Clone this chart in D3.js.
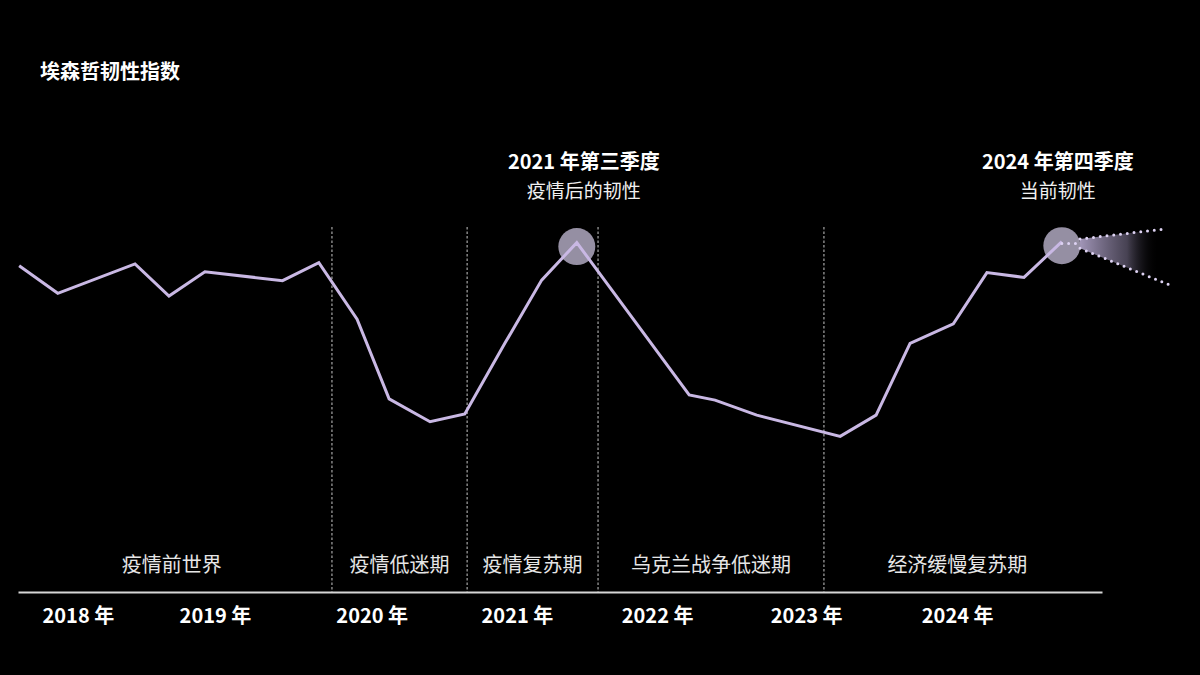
<!DOCTYPE html>
<html>
<head>
<meta charset="utf-8">
<script src="https://cdn.jsdelivr.net/npm/d3@7"></script>
<style>
  html, body { margin: 0; padding: 0; background: #000; }
  svg { display: block; }
  text { font-family: "Noto Sans CJK SC", "Noto Sans", sans-serif; }
</style>
</head>
<body>
<div id="chart"></div>
<script>
// quarter position (0 = 2018 Q1) and index value
const quarterPos = [0, 1, 3, 3.88, 4.81, 6.82, 7.76, 8.75, 9.58, 10.64, 11.54, 12.58,
  13.53, 14.44, 17.35, 18.02, 19.10, 21.26, 22.19, 23.07, 24.19, 25.06, 26.02, 27];
const resilience = [78.1, 68.9, 78.7, 68.0, 76.1, 73.1, 79.1, 60.3, 33.7, 26.1, 28.7, 52.3,
  73.3, 85.8, 35.0, 33.3, 28.3, 21.2, 28.3, 52.2, 58.7, 75.8, 74.2, 86.1];

const yearLabels = ['2018 年', '2019 年', '2020 年', '2021 年', '2022 年', '2023 年', '2024 年'];
const yearTickPos = [1.52, 5.07, 9.13, 12.89, 16.52, 20.38, 24.29];

const phaseNames = ['疫情前世界', '疫情低迷期', '疫情复苏期', '乌克兰战争低迷期', '经济缓慢复苏期'];
const phaseBounds = [-0.2, 8.10, 11.60, 14.99, 20.84, 27.75];

// highlighted points (indexes into the series) and their labels
const highlightIdx = [13, 23];
const highlightTitle = ['2021 年第三季度', '2024 年第四季度'];
const highlightSub = ['疫情后的韧性', '当前韧性'];

// outlook cone after the last point
const coneUpperQ = [27.47, 29.63], coneUpperV = [87.0, 90.3];
const coneLowerQ = [27.47, 29.90], coneLowerV = [83.9, 71.1];
const coneMidQ = [27.0, 27.47], coneMidV = [85.5, 85.5];

const width = 1200, height = 675;
const baseY = 592;

const svg = d3.select('#chart').append('svg')
  .attr('width', width)
  .attr('height', height)
  .attr('viewBox', `0 0 ${width} ${height}`);

svg.append('rect').attr('width', width).attr('height', height).attr('fill', '#000');

const x = d3.scaleLinear().domain([-0.03, 28.04]).range([18, 1102]);
const y = d3.scaleLinear().domain([0, 100]).range([500, 200]);

// title
svg.append('text')
  .attr('x', 40).attr('y', 79)
  .attr('fill', '#fff')
  .attr('font-size', 20)
  .attr('font-weight', 700)
  .text('埃森哲韧性指数');

// phase separators
svg.append('g').selectAll('line')
  .data(phaseBounds.slice(1, -1))
  .join('line')
  .attr('x1', d => x(d)).attr('x2', d => x(d))
  .attr('y1', 227).attr('y2', baseY)
  .attr('stroke', '#c8c8c8')
  .attr('stroke-width', 1)
  .attr('stroke-dasharray', '2.5 2');

// phase labels
svg.append('g').selectAll('text')
  .data(phaseNames)
  .join('text')
  .attr('x', (d, i) => x((phaseBounds[i] + phaseBounds[i + 1]) / 2))
  .attr('y', 572)
  .attr('text-anchor', 'middle')
  .attr('fill', '#e6e6e6')
  .attr('font-size', 20)
  .text(d => d);

// year axis
const axis = svg.append('g')
  .attr('transform', `translate(0,${baseY})`)
  .call(d3.axisBottom(x)
    .tickValues(yearTickPos)
    .tickSize(0)
    .tickPadding(17)
    .tickFormat((d, i) => yearLabels[i]));
axis.select('.domain').attr('stroke', '#d6d6d6').attr('stroke-width', 2);
axis.selectAll('text')
  .attr('fill', '#fff')
  .attr('font-size', 20)
  .attr('font-weight', 700)
  .attr('font-family', '"Noto Sans CJK SC", "Noto Sans", sans-serif');

// outlook cone
const defs = svg.append('defs');
const grad = defs.append('linearGradient')
  .attr('id', 'coneFade')
  .attr('gradientUnits', 'userSpaceOnUse')
  .attr('x1', x(coneUpperQ[0])).attr('x2', x(29.5))
  .attr('y1', 0).attr('y2', 0);
grad.append('stop').attr('offset', '0%').attr('stop-color', '#b3a6cc').attr('stop-opacity', 0.9);
grad.append('stop').attr('offset', '60%').attr('stop-color', '#6e6680').attr('stop-opacity', 0.65);
grad.append('stop').attr('offset', '100%').attr('stop-color', '#000').attr('stop-opacity', 0);

const conePts = [
  [coneUpperQ[0], coneUpperV[0]], [coneUpperQ[1], coneUpperV[1]],
  [coneLowerQ[1], coneLowerV[1]], [coneLowerQ[0], coneLowerV[0]]
];
svg.append('path')
  .attr('d', d3.line().x(d => x(d[0])).y(d => y(d[1]))(conePts) + 'Z')
  .attr('fill', 'url(#coneFade)');

// highlight circles
svg.append('g').selectAll('circle')
  .data(highlightIdx)
  .join('circle')
  .attr('cx', d => x(quarterPos[d]))
  .attr('cy', d => y(resilience[d]) + 4)
  .attr('r', 18.5)
  .attr('fill', '#958fa3');

// main line
const line = d3.line().x(d => x(d[0])).y(d => y(d[1]));
svg.append('path')
  .attr('d', line(d3.zip(quarterPos, resilience)))
  .attr('fill', 'none')
  .attr('stroke', '#c9b8e4')
  .attr('stroke-width', 3)
  .attr('stroke-linejoin', 'miter');

// dotted cone edges
[[coneUpperQ, coneUpperV], [coneLowerQ, coneLowerV], [coneMidQ, coneMidV]].forEach(([q, v]) => {
  svg.append('path')
    .attr('d', line(d3.zip(q, v)))
    .attr('fill', 'none')
    .attr('stroke', '#ddd2f2')
    .attr('stroke-width', 3)
    .attr('stroke-linecap', 'round')
    .attr('stroke-dasharray', '0 6.8');
});

// annotations above the highlighted points
const ann = svg.append('g').selectAll('g')
  .data(highlightIdx)
  .join('g')
  .attr('transform', (d, i) => `translate(${x(quarterPos[d]) + (i === 0 ? 7 : -4)},0)`);
ann.append('text')
  .attr('y', 169)
  .attr('text-anchor', 'middle')
  .attr('fill', '#fff')
  .attr('font-size', 20)
  .attr('font-weight', 700)
  .text((d, i) => highlightTitle[i]);
ann.append('text')
  .attr('y', 198)
  .attr('text-anchor', 'middle')
  .attr('fill', '#f0f0f0')
  .attr('font-size', 19)
  .text((d, i) => highlightSub[i]);
</script>
</body>
</html>
